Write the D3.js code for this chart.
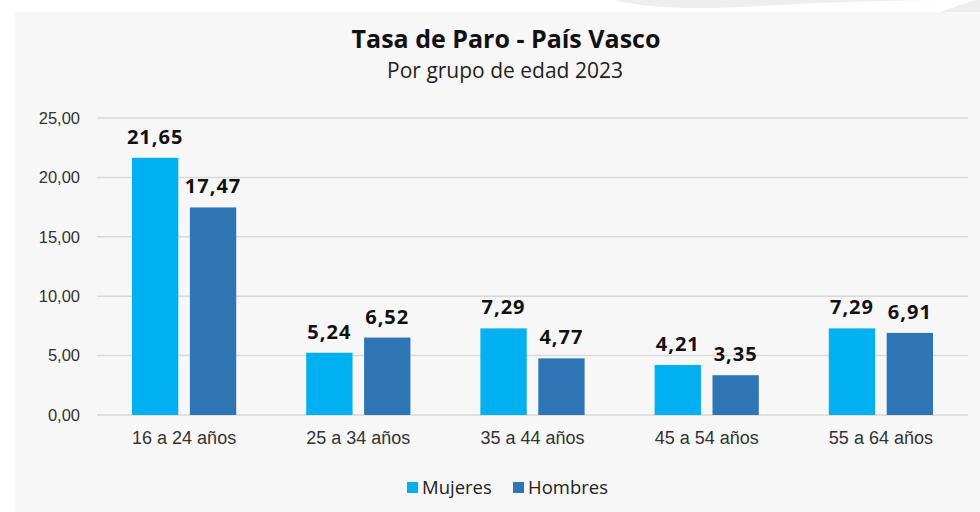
<!DOCTYPE html>
<html>
<head>
<meta charset="utf-8">
<script src="https://cdn.jsdelivr.net/npm/d3@7"></script>
<style>
  body { margin: 0; background: #fff; }
  svg { display: block; font-family: "Open Sans", "Noto Sans", sans-serif; }
</style>
</head>
<body>
<svg id="chart"></svg>
<script>
// Datos
var categories = ["16 a 24 años", "25 a 34 años", "35 a 44 años", "45 a 54 años", "55 a 64 años"];
var series = ["Mujeres", "Hombres"];
var mujeres = [21.65, 5.24, 7.29, 4.21, 7.29];
var hombres = [17.47, 6.52, 4.77, 3.35, 6.91];
var yTicks = [0, 5, 10, 15, 20, 25];
var colors = ["#00b0f0", "#2e75b6"];

var width = 980, height = 512;
var margin = {top: 118, right: 12, bottom: 97, left: 97};

var svg = d3.select("#chart")
    .attr("width", width)
    .attr("height", height);

// fondo del panel
svg.append("rect")
    .attr("x", 15).attr("y", 12)
    .attr("width", width - 15).attr("height", height - 12)
    .attr("fill", "#f7f7f7");

// forma gris arriba a la derecha
svg.append("path")
    .attr("d", "M615,0 Q660,12 760,6 Q870,0 960,0 L985,0 L980,12 L940,12 L975,0 Z")
    .attr("fill", "#eeeeee");

var fmt = function (v) { return d3.format(".2f")(v).replace(".", ","); };

var x0 = d3.scaleBand()
    .domain(categories)
    .range([margin.left, width - margin.right]);

var x1 = d3.scaleBand()
    .domain(series)
    .range([35, x0.bandwidth() - 35])
    .paddingInner(0.2);

var y = d3.scaleLinear()
    .domain([0, 25])
    .range([height - margin.bottom, margin.top]);

// grid
svg.append("g")
    .selectAll("line")
    .data(yTicks)
    .enter().append("line")
    .attr("x1", margin.left)
    .attr("x2", width - margin.right)
    .attr("y1", function (d) { return y(d); })
    .attr("y2", function (d) { return y(d); })
    .attr("stroke", "#d9d9d9")
    .attr("stroke-width", 1.5);

// eje y
var yAxis = svg.append("g")
    .attr("transform", "translate(" + (margin.left - 14) + ",0)")
    .call(d3.axisLeft(y).tickValues(yTicks).tickSize(0).tickFormat(fmt));
yAxis.select(".domain").remove();
yAxis.selectAll("text")
    .style("font-size", "16.5px")
    .style("fill", "#333");

// eje x
var xAxis = svg.append("g")
    .attr("transform", "translate(0," + (height - margin.bottom) + ")")
    .call(d3.axisBottom(x0).tickSize(0));
xAxis.select(".domain").remove();
xAxis.selectAll("text")
    .attr("dy", "1.45em")
    .style("font-size", "18px")
    .style("fill", "#333");

var rows = categories.map(function (c, i) {
    return {category: c, values: [
        {key: "Mujeres", value: mujeres[i]},
        {key: "Hombres", value: hombres[i]}
    ]};
});

var groups = svg.append("g")
    .selectAll("g")
    .data(rows)
    .enter().append("g")
    .attr("transform", function (d) { return "translate(" + x0(d.category) + ",0)"; });

groups.selectAll("rect")
    .data(function (d) { return d.values; })
    .enter().append("rect")
    .attr("x", function (d) { return x1(d.key); })
    .attr("y", function (d) { return y(d.value); })
    .attr("width", x1.bandwidth())
    .attr("height", function (d) { return y(0) - y(d.value); })
    .attr("fill", function (d, i) { return colors[i]; });

groups.selectAll("text")
    .data(function (d) { return d.values; })
    .enter().append("text")
    .attr("x", function (d) { return x1(d.key) + x1.bandwidth() / 2; })
    .attr("y", function (d) { return y(d.value) - 14; })
    .attr("text-anchor", "middle")
    .style("font-size", "20px")
    .style("font-weight", "bold")
    .style("letter-spacing", "1px")
    .style("fill", "#111")
    .text(function (d) { return fmt(d.value); });

// titulos
svg.append("text")
    .attr("x", 506).attr("y", 48)
    .attr("text-anchor", "middle")
    .style("font-size", "25px")
    .style("font-weight", "bold")
    .style("fill", "#111")
    .text("Tasa de Paro - País Vasco");

svg.append("text")
    .attr("x", 505).attr("y", 78)
    .attr("text-anchor", "middle")
    .style("font-size", "21px")
    .style("fill", "#222")
    .text("Por grupo de edad 2023");

// leyenda
var legendX = [407, 513];
var legend = svg.append("g")
    .selectAll("g")
    .data(series)
    .enter().append("g")
    .attr("transform", function (d, i) { return "translate(" + legendX[i] + ",482)"; });
legend.append("rect")
    .attr("width", 11).attr("height", 11)
    .attr("fill", function (d, i) { return colors[i]; });
legend.append("text")
    .attr("x", 15).attr("y", 12)
    .style("font-size", "18.5px")
    .style("fill", "#222")
    .text(function (d) { return d; });
</script>
</body>
</html>
